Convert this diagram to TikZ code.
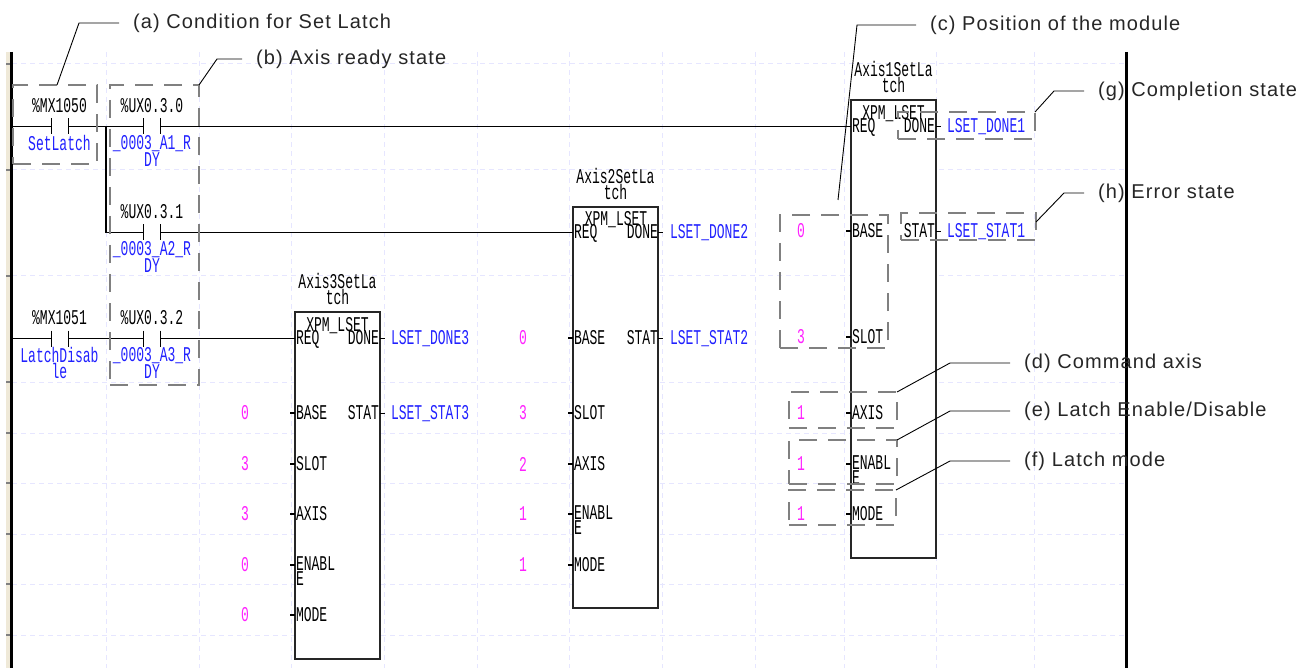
\documentclass[tikz,border=0pt]{standalone}
\usepackage{fontspec}
\usepackage{xcolor}
\setmainfont{Liberation Sans}
\newfontfamily\ladderfont[FakeStretch=0.62]{Liberation Mono}
\newfontfamily\calloutfont[LetterSpace=5.6]{Liberation Sans}
\usetikzlibrary{positioning, calc}
\definecolor{gridblue}{HTML}{E6E6FF}
\definecolor{railbeige}{HTML}{EFE9D8}
\definecolor{tagblue}{HTML}{2020FF}
\definecolor{valmagenta}{HTML}{FF20FF}
\definecolor{markgray}{HTML}{808080}

\begin{document}
\begin{tikzpicture}[x=1pt, y=-1pt,
    every node/.style={outer sep=0pt, inner sep=0pt},
    ladder/.style={font=\ladderfont\fontsize{21}{15}\selectfont, align=center, text=black},
    tag/.style={ladder, text=tagblue},
    val/.style={ladder, text=valmagenta},
    wire/.style={line width=1.2pt, black},
    fblock/.style={draw=black!85, line width=1.5pt, fill=white, anchor=north west, minimum width=85pt},
    contact/.style={minimum width=17pt, minimum height=16pt,
        append after command={[wire] (\tikzlastnode.north west) edge (\tikzlastnode.south west)
            (\tikzlastnode.north east) edge (\tikzlastnode.south east)}},
    markbox/.style={draw=markgray, line width=2.7pt, dash pattern=on 18pt off 11pt, anchor=north west},
    leader/.style={line width=0.9pt, black},
    callout/.style={font=\calloutfont\fontsize{20}{20}\selectfont, text=black!85, anchor=west, inner xsep=14pt}]
    \useasboundingbox (0,0) rectangle (1306,668);

    % Grid
    \foreach \y in {64,170,276,382,433,483,534,584,635}
        \draw[gridblue, line width=1pt, dash pattern=on 5pt off 4pt] (12,\y) -- (1125,\y);
    \foreach \x in {106,199,291,384,477,569,662,755,844,936,1034}
        \draw[gridblue, line width=1pt, dash pattern=on 5pt off 4pt] (\x,52) -- (\x,668);

    % Rails
    \fill[railbeige] (6,52) rectangle (10,668);
    \foreach \y in {64,170,276,382,433,483,534,584,635}
        \draw[markgray, line width=1.5pt] (6,\y) -- (10,\y);
    \draw[line width=3pt] (11,52) -- (11,668);
    \draw[line width=3pt] (1126,52) -- (1126,668);
    \coordinate (railone) at (11,126.5);
    \coordinate (railtwo) at (11,338.5);
    \coordinate (branchtop) at (106,126.5);
    \coordinate (branchlow) at (106,232.5);

    % Contacts
    \node[contact] (setlatch) at (59.5,126.5) {};
    \node[contact] (ready1) at (152,126.5) {};
    \node[contact] (ready2) at (152,232.5) {};
    \node[contact] (disable) at (59.5,338.5) {};
    \node[contact] (ready3) at (152,338.5) {};

    % Contact texts
    \node[ladder, anchor=north] (setlatchaddr) at (59.5,98) {\%MX1050};
    \node[tag, anchor=north] (setlatchname) at (59.5,135) {SetLatch};
    \node[ladder, anchor=north] (ready1addr) at (152,98) {\%UX0.3.0};
    \node[tag, anchor=north] (ready1name) at (152,135) {\_0003\_A1\_R\\DY};
    \node[ladder, anchor=north] (ready2addr) at (152,204) {\%UX0.3.1};
    \node[tag, anchor=north] (ready2name) at (152,241) {\_0003\_A2\_R\\DY};
    \node[ladder, anchor=north] (disableaddr) at (59.5,310) {\%MX1051};
    \node[tag, anchor=north] (disablename) at (59.5,347) {LatchDisab\\le};
    \node[ladder, anchor=north] (ready3addr) at (152,310) {\%UX0.3.2};
    \node[tag, anchor=north] (ready3name) at (152,347) {\_0003\_A3\_R\\DY};

    % Function blocks
    \node[fblock, minimum height=458pt] (axis1) at (851,100) {};
    \node[fblock, minimum height=401pt] (axis2) at (573,207) {};
    \node[fblock, minimum height=347pt] (axis3) at (295,312) {};
    \node[ladder, above=7pt of axis1] (axis1name) {Axis1SetLa\\tch};
    \node[ladder, above=7pt of axis2] (axis2name) {Axis2SetLa\\tch};
    \node[ladder, above=7pt of axis3] (axis3name) {Axis3SetLa\\tch};
    \node[ladder, anchor=north] (axis1type) at (893.5,105) {XPM\_LSET};
    \node[ladder, anchor=north] (axis2type) at (616,211) {XPM\_LSET};
    \node[ladder, anchor=north] (axis3type) at (337.5,317) {XPM\_LSET};

    % Wires
    \draw[wire] (railone) -- (setlatch);
    \draw[wire] (setlatch) -- (ready1);
    \draw[wire] (ready1) -- (ready1 -| axis1.west);
    \draw[wire] (branchtop) -- (branchlow) -- (ready2);
    \draw[wire] (ready2) -- (ready2 -| axis2.west);
    \draw[wire] (railtwo) -- (disable);
    \draw[wire] (disable) -- (ready3);
    \draw[wire] (ready3) -- (ready3 -| axis3.west);

    % Request pins
    \node[ladder, anchor=north west] (axis1req) at (852,118) {REQ};
    \node[ladder, anchor=north west] (axis2req) at (574,224) {REQ};
    \node[ladder, anchor=north west] (axis3req) at (296,330) {REQ};

    % Input pins
    \foreach \n/\y/\pin/\v in {base/231/BASE/0, slot/337/SLOT/3, axis/413/AXIS/1, enabl/464/{ENABL\\E}/1, mode/514/MODE/1} {
        \node[ladder, anchor=north west, align=left] (axis1\n) at (852,\y-8) {\pin};
        \node[val] (axis1\n val) at (801,\y) {\v};
        \draw[wire] (axis1.west |- axis1\n val) -- ++(-5,0);
    }
    \foreach \n/\y/\pin/\v in {base/338/BASE/0, slot/413/SLOT/3, axis/464/AXIS/2, enabl/514/{ENABL\\E}/1, mode/565/MODE/1} {
        \node[ladder, anchor=north west, align=left] (axis2\n) at (574,\y-8) {\pin};
        \node[val] (axis2\n val) at (523,\y) {\v};
        \draw[wire] (axis2.west |- axis2\n val) -- ++(-5,0);
    }
    \foreach \n/\y/\pin/\v in {base/413/BASE/0, slot/464/SLOT/3, axis/514/AXIS/3, enabl/565/{ENABL\\E}/0, mode/615/MODE/0} {
        \node[ladder, anchor=north west, align=left] (axis3\n) at (296,\y-8) {\pin};
        \node[val] (axis3\n val) at (245,\y) {\v};
        \draw[wire] (axis3.west |- axis3\n val) -- ++(-5,0);
    }

    % Output pins
    \foreach \b/\x/\ydone/\ystat/\d in {axis1/935/126/231/1, axis2/658/232/338/2, axis3/379/338/413/3} {
        \node[ladder, anchor=north east] (\b done) at (\x,\ydone-8) {DONE};
        \node[ladder, anchor=north east] (\b stat) at (\x,\ystat-8) {STAT};
        \node[tag, anchor=north west] (\b donetag) at (\x+12,\ydone-8) {LSET\_DONE\d};
        \node[tag, anchor=north west] (\b stattag) at (\x+12,\ystat-8) {LSET\_STAT\d};
        \draw[wire] (\b.east |- \b donetag) -- ++(5,0);
        \draw[wire] (\b.east |- \b stattag) -- ++(5,0);
    }

    % Marked groups
    \node[markbox, minimum width=84pt, minimum height=79pt] (groupa) at (13,85) {};
    \node[markbox, minimum width=89pt, minimum height=300pt] (groupb) at (110,85) {};
    \node[markbox, minimum width=108pt, minimum height=133pt] (groupc) at (780,215) {};
    \node[markbox, minimum width=108pt, minimum height=36pt] (groupd) at (789,392) {};
    \node[markbox, minimum width=108pt, minimum height=44pt] (groupe) at (789,440) {};
    \node[markbox, minimum width=107pt, minimum height=35pt] (groupf) at (789,490) {};
    \node[markbox, minimum width=137pt, minimum height=27pt] (groupg) at (898,112) {};
    \node[markbox, minimum width=135pt, minimum height=27pt] (grouph) at (901,213) {};

    % Callouts
    \node[callout] (capa) at (119,23) {(a) Condition for Set Latch};
    \node[callout] (capb) at (242,59) {(b) Axis ready state};
    \node[callout] (capc) at (916,25) {(c) Position of the module};
    \node[callout] (capd) at (1010,363) {(d) Command axis};
    \node[callout] (cape) at (1010,411) {(e) Latch Enable/Disable};
    \node[callout] (capf) at (1010,461) {(f) Latch mode};
    \node[callout] (capg) at (1084,91) {(g) Completion state};
    \node[callout] (caph) at (1084,193) {(h) Error state};
    \coordinate (groupctip) at (838,200);

    % Leaders
    \draw[leader] (groupa.north) ++(2,0) -- (79,23) -- (capa.west);
    \draw[leader] (groupb.north east) -- (217,59) -- (capb.west);
    \draw[leader] (groupctip) -- (857,25) -- (capc.west);
    \draw[leader] (groupd.north east) -- (950,363) -- (capd.west);
    \draw[leader] (groupe.north east) -- (950,411) -- (cape.west);
    \draw[leader] (groupf.north east) -- (950,461) -- (capf.west);
    \draw[leader] (groupg.north east) -- (1054,91) -- (capg.west);
    \draw[leader] (grouph.north east) ++(0,9) -- (1064,193) -- (caph.west);
\end{tikzpicture}
\end{document}
